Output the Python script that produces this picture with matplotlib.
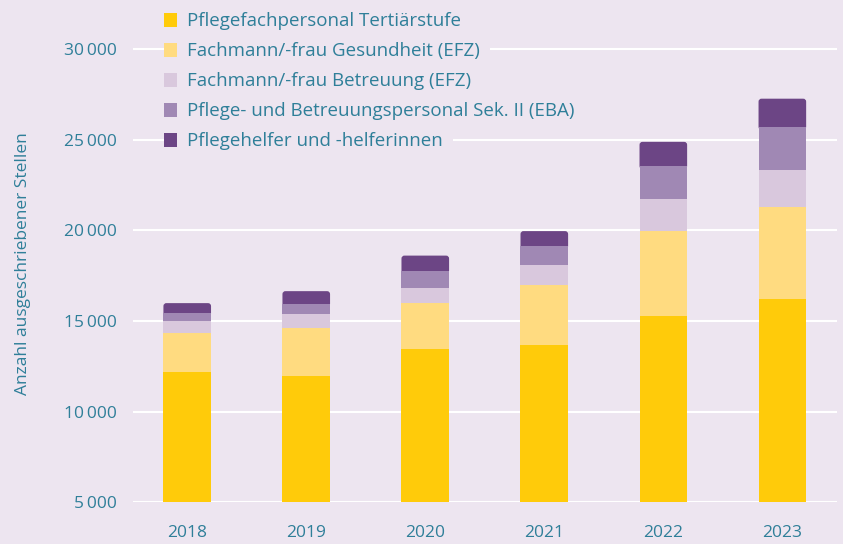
import numpy as np
import matplotlib.pyplot as plt
from matplotlib.ticker import FuncFormatter
from matplotlib.patches import FancyBboxPatch, Patch

years = ['2018', '2019', '2020', '2021', '2022', '2023']
labels = ['Pflegefachpersonal Tertiärstufe',
          'Fachmann/-frau Gesundheit (EFZ)',
          'Fachmann/-frau Betreuung (EFZ)',
          'Pflege- und Betreuungspersonal Sek. II (EBA)',
          'Pflegehelfer und -helferinnen']
tertiaer = [12220, 11980, 13470, 13690, 15290, 16230]
fage = [2140, 2650, 2540, 3310, 4690, 5080]
fabe = [660, 770, 830, 1100, 1770, 2040]
eba = [400, 550, 940, 1030, 1800, 2360]
helfer = [570, 700, 830, 830, 1330, 1550]

colors = ['#ffcb0a', '#ffdb80', '#d9c8dd', '#a088b4', '#6c4585']
bg = '#ede5f0'
teal = '#2f7f99'

plt.rcParams['font.family'] = ['Open Sans', 'DejaVu Sans']

fig = plt.figure(figsize=(8.43, 5.44), dpi=100, facecolor=bg)
ax = fig.add_axes([0.158, 0.0763, 0.835, 0.9237])
ax.set_facecolor(bg)

x = np.arange(len(years))
width = 0.4
bottom = np.zeros(len(years))
series = [tertiaer, fage, fabe, eba]
for vals, c in zip(series, colors[:4]):
    ax.bar(x, vals, width, bottom=bottom, color=c, zorder=2)
    bottom += np.array(vals)

ax.set_xlim(-0.454, 5.46)
ax.set_ylim(5000, 32700)

# top segment with slightly rounded upper corners
rx = 0.025
ry = rx * (ax.get_ylim()[1] - ax.get_ylim()[0]) / (ax.get_xlim()[1] - ax.get_xlim()[0]) \
    * (0.835 * 843) / (0.9237 * 544)
for xi, b, v in zip(x, bottom, helfer):
    ax.add_patch(FancyBboxPatch((xi - width / 2, b - ry), width, v + ry,
                                boxstyle=f'round,pad=0,rounding_size={rx}',
                                mutation_aspect=ry / rx, facecolor=colors[4],
                                edgecolor='none', zorder=1.9))

ax.set_yticks([5000, 10000, 15000, 20000, 25000, 30000])
ax.yaxis.set_major_formatter(FuncFormatter(
    lambda v, p: f'{int(v):,}'.replace(',', '\u2009')))
ax.set_xticks(x)
ax.set_xticklabels(years)
ax.grid(axis='y', color='white', linewidth=1.5, zorder=0)
ax.set_axisbelow(True)
for s in ax.spines.values():
    s.set_visible(False)
ax.tick_params(length=0, labelsize=12.5, colors=teal)
ax.tick_params(axis='y', pad=12)
ax.tick_params(axis='x', pad=16)

fig.text(0.027, 1 - 264 / 544, 'Anzahl ausgeschriebener Stellen', rotation=90,
         ha='center', va='center', color=teal, fontsize=12.5)

handles = [Patch(facecolor=c, edgecolor='none') for c in colors]
leg = ax.legend(handles, labels, loc='upper left', bbox_to_anchor=(0.022, 1.005),
                frameon=False, fontsize=13.5, handlelength=0.8, handleheight=0.8,
                handletextpad=0.45, labelspacing=0.64, borderpad=0.3)
for t in leg.get_texts():
    t.set_color(teal)
    t.set_bbox(dict(facecolor=bg, edgecolor='none', pad=7))

fig.savefig('out.png', dpi=100, facecolor=bg)
